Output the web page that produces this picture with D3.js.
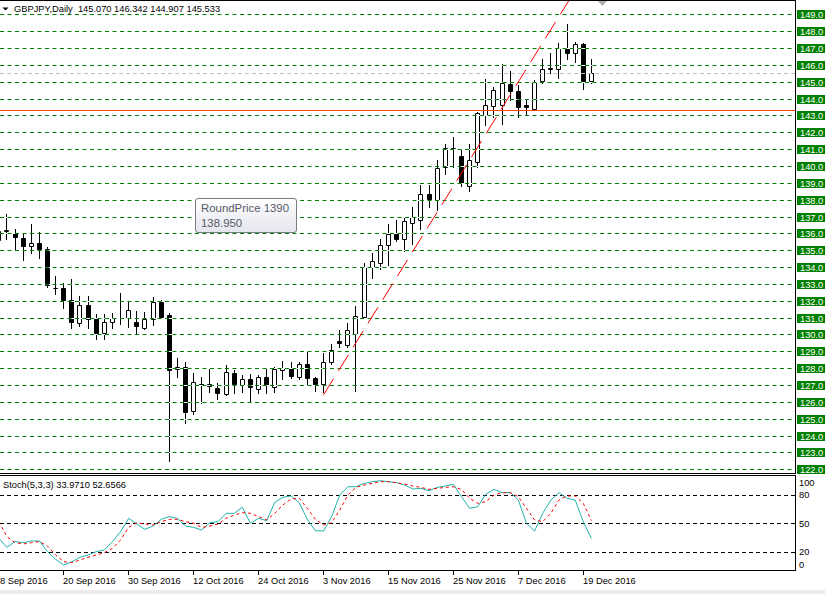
<!DOCTYPE html>
<html><head><meta charset="utf-8">
<script src="https://cdn.jsdelivr.net/npm/d3@7"></script>
<style>
html,body{margin:0;padding:0;background:#fff;overflow:hidden;}
svg{display:block;}
text{font-family:"Liberation Sans",Arial,sans-serif;}
</style></head><body>
<svg id="c" width="825" height="594"></svg>
<script>
// ---------------- DATA ----------------
const symbolTitle = "GBPJPY,Daily";
const dates = [
"2016-09-08","2016-09-09","2016-09-12","2016-09-13","2016-09-14","2016-09-15","2016-09-16",
"2016-09-19","2016-09-20","2016-09-21","2016-09-22","2016-09-23",
"2016-09-26","2016-09-27","2016-09-28","2016-09-29","2016-09-30",
"2016-10-03","2016-10-04","2016-10-05","2016-10-06","2016-10-07",
"2016-10-10","2016-10-11","2016-10-12","2016-10-13","2016-10-14",
"2016-10-17","2016-10-18","2016-10-19","2016-10-20","2016-10-21",
"2016-10-24","2016-10-25","2016-10-26","2016-10-27","2016-10-28",
"2016-10-31","2016-11-01","2016-11-02","2016-11-03","2016-11-04",
"2016-11-07","2016-11-08","2016-11-09","2016-11-10","2016-11-11",
"2016-11-14","2016-11-15","2016-11-16","2016-11-17","2016-11-18",
"2016-11-21","2016-11-22","2016-11-23","2016-11-24","2016-11-25",
"2016-11-28","2016-11-29","2016-11-30","2016-12-01","2016-12-02",
"2016-12-05","2016-12-06","2016-12-07","2016-12-08","2016-12-09",
"2016-12-12","2016-12-13","2016-12-14","2016-12-15","2016-12-16",
"2016-12-19","2016-12-20"];
const opens = [
135.62,136.15,136.04,135.74,135.27,135.43,135.09,
132.78,132.73,132.02,130.66,131.74,
130.96,130.07,130.72,131.00,130.95,
130.74,130.41,130.90,131.90,131.17,
127.94,128.06,125.45,127.05,127.05,
126.81,126.48,127.70,127.03,127.35,
126.79,127.47,126.91,127.88,128.00,
127.45,128.26,127.43,127.09,128.36,
129.62,129.40,130.00,131.03,134.00,
134.24,135.33,135.99,135.69,136.62,
136.82,138.36,138.00,139.91,141.00,
140.58,138.80,140.24,143.02,143.55,
143.61,144.86,144.46,143.60,143.41,
145.05,145.78,145.73,146.94,146.68,
147.24,145.070];
const highs = [
136.30,137.12,136.23,136.04,136.57,136.11,135.20,
133.46,133.08,133.28,132.30,132.30,
131.21,131.19,131.29,132.45,131.94,
131.39,131.35,132.22,132.04,131.27,
128.59,128.38,127.70,127.47,127.96,
127.11,128.18,127.90,127.58,127.66,
127.62,127.98,128.06,128.44,128.34,
128.34,129.03,127.50,128.93,129.45,
130.28,130.71,131.70,134.24,134.86,
135.65,136.54,136.78,136.92,137.57,
138.86,138.86,140.34,141.33,141.73,
140.94,141.33,143.21,145.14,144.66,
146.05,145.65,144.80,143.95,145.10,
146.33,146.72,147.31,148.42,147.37,
147.31,146.342];
const lows = [
135.40,135.68,134.99,134.44,134.85,134.54,132.83,
132.43,131.59,130.41,130.52,130.41,
129.72,129.72,130.41,130.62,130.45,
130.05,130.31,130.56,130.96,122.50,
127.47,124.77,125.29,125.92,126.61,
126.20,126.42,126.55,126.59,126.06,
126.55,126.55,126.61,127.37,127.41,
127.35,127.07,126.67,126.57,128.24,
129.23,129.23,126.67,131.00,133.37,
133.91,134.10,135.55,134.95,135.39,
136.23,137.57,137.37,139.55,139.94,
138.80,138.52,139.94,142.42,142.92,
142.48,143.91,142.92,143.02,143.31,
144.90,145.49,145.20,146.33,146.18,
144.54,144.907];
const closes = [
136.17,136.20,135.78,135.25,135.44,135.07,132.91,
132.75,132.06,130.72,131.74,130.92,
130.11,130.72,131.00,130.98,131.43,
130.52,130.90,131.90,131.05,127.90,
128.06,125.39,127.19,127.03,126.93,
126.53,127.76,127.09,127.35,126.91,
127.50,127.03,127.94,128.00,127.56,
128.26,127.41,127.09,128.38,129.07,
129.52,130.26,131.07,134.00,134.36,
135.33,135.99,135.65,136.72,136.97,
138.36,138.04,139.85,141.04,141.06,
138.96,140.38,143.15,143.59,144.50,
144.94,144.46,143.51,143.50,144.98,
145.73,145.82,146.98,146.68,147.24,
145.05,145.533];
const stochK = [
34.1,24.6,30.6,29.5,31.3,31.3,20.1,
12.0,6.0,9.5,14.1,16.5,
20.1,21.8,30.6,41.1,55.1,
49.2,43.5,47.0,54.1,56.9,
55.1,47.0,45.6,42.8,50.5,
51.6,60.4,60.4,66.7,49.9,
55.1,52.7,72.0,77.3,78.7,
71.6,54.1,42.1,41.8,56.9,
79.7,88.4,88.4,91.9,93.7,
94.7,93.7,92.6,90.2,86.0,
86.7,84.2,87.7,89.1,90.9,
77.9,65.6,67.4,80.7,85.6,
82.1,82.5,74.4,49.9,41.8,
60.4,74.4,82.1,76.2,74.4,
51.6,33.971];
const stochD = [
51.6,35.8,29.5,28.1,29.5,30.6,26.0,
16.5,9.5,8.5,11.3,14.1,
16.5,19.0,23.5,32.3,45.6,
50.5,49.2,48.1,51.6,54.1,
54.1,51.6,49.9,45.6,47.0,
49.2,55.1,58.6,61.1,60.4,
56.9,53.4,60.4,69.2,75.5,
76.2,65.6,54.1,48.1,50.5,
63.9,79.7,87.7,90.2,91.9,
93.7,93.7,92.6,91.2,89.1,
87.7,85.6,86.7,87.7,88.4,
85.6,76.2,70.9,72.7,79.7,
82.1,82.1,77.9,65.6,53.4,
51.6,60.4,74.4,78.7,78.7,
70.9,52.6566];
const dateTicks = ["2016-09-08","2016-09-20","2016-09-30","2016-10-12","2016-10-24",
                   "2016-11-03","2016-11-15","2016-11-25","2016-12-07","2016-12-19"];
const roundLevels = [122,123,124,125,126,127,128,129,130,131,132,133,134,135,
                     136,137,138,139,140,141,142,143,144,145,146,147,148,149];
const hLinePrice = 143.30;
const bidPrice = 145.533;
const trendPoints = [["2016-11-03",126.42],["2016-12-15",149.64]];
const stochLevels = [20,50,80];
const stochAxisLabels = [100,80,50,20,0];
const stochTitle = "Stoch(5,3,3)";
const tooltipLines = ["RoundPrice 1390","138.950"];

// ---------------- LAYOUT ----------------
const W = 825, H = 594;
const axisX = 795;
const main = {top:1, bottom:473};
const sub = {top:476, bottom:571};
const FS = 9.3;
const GREEN = "#008000";

const svg = d3.select("#c");
svg.append("rect").attr("width",W).attr("height",H).attr("fill","#fff");

const x = d3.scalePoint().domain(dates).range([-1.2, -1.2 + 73*8.118]);
const y = d3.scaleLinear().domain([122,149]).range([469.3,14.3]);
const ys = d3.scaleLinear().domain([0,100]).range([570.7,475.7]);

const defs = svg.append("defs");
defs.append("clipPath").attr("id","cm").append("rect")
  .attr("x",0).attr("y",main.top).attr("width",axisX).attr("height",main.bottom-main.top);
defs.append("clipPath").attr("id","cs").append("rect")
  .attr("x",0).attr("y",sub.top).attr("width",axisX).attr("height",sub.bottom-sub.top);
const grad = defs.append("linearGradient").attr("id","tg").attr("x1",0).attr("y1",0).attr("x2",0).attr("y2",1);
grad.append("stop").attr("offset","0%").attr("stop-color","#ffffff");
grad.append("stop").attr("offset","100%").attr("stop-color","#e4e5ee");

const gm = svg.append("g").attr("clip-path","url(#cm)");
const pix = v => Math.round(v) + 0.5;

// candles
const bars = dates.map((d,i)=>({d, o:opens[i], h:highs[i], l:lows[i], c:closes[i]}));
const cg = gm.append("g");
bars.forEach(b=>{
  const c = Math.floor(x(b.d));
  cg.append("line").attr("x1",c+0.5).attr("x2",c+0.5)
    .attr("y1",Math.round(y(b.h))).attr("y2",Math.round(y(b.l))+1)
    .attr("stroke","#000").attr("stroke-width",1);
  const t = pix(y(Math.max(b.o,b.c))), bt = pix(y(Math.min(b.o,b.c)));
  const l = c-1.5, r = c+2.5;
  cg.append("path").attr("d",`M${l},${t}H${r}V${bt}H${l}Z`)
    .attr("fill", b.c >= b.o ? "#fff" : "#000")
    .attr("stroke","#000").attr("stroke-width",1);
});

// round-price grid lines (opaque dashes: white gaps over candles)
const gl = gm.append("g");
roundLevels.forEach(p=>{
  const yy = pix(y(p));
  gl.append("line").attr("x1",0).attr("x2",axisX).attr("y1",yy).attr("y2",yy)
    .attr("stroke","#fff").attr("stroke-width",1);
  gl.append("line").attr("x1",0).attr("x2",axisX).attr("y1",yy).attr("y2",yy)
    .attr("stroke",GREEN).attr("stroke-width",1).attr("stroke-dasharray","4,3.5");
});

// bid line
gm.append("line").attr("x1",0).attr("x2",axisX)
  .attr("y1",pix(y(bidPrice))).attr("y2",pix(y(bidPrice)))
  .attr("stroke","#c0c0c0").attr("stroke-dasharray","4,3");
// orange horizontal line
gm.append("line").attr("x1",0).attr("x2",axisX)
  .attr("y1",pix(y(hLinePrice))).attr("y2",pix(y(hLinePrice)))
  .attr("stroke","#ff4500").attr("stroke-width",1);
// trend line (ray)
{
  const x1 = x(trendPoints[0][0]), y1 = y(trendPoints[0][1]);
  const x2 = x(trendPoints[1][0]), y2 = y(trendPoints[1][1]);
  const k = 1.3;
  gm.append("line").attr("x1",x1).attr("y1",y1)
    .attr("x2",x1+(x2-x1)*k).attr("y2",y1+(y2-y1)*k)
    .attr("stroke","#ff0000").attr("stroke-width",1).attr("stroke-dasharray","19,9");
}
// chart-shift marker
{
  const sx = x(dates[dates.length-1]) + 11;
  svg.append("path").attr("d",`M${sx-4.5},1 L${sx+4.5},1 L${sx},6 Z`).attr("fill","#b0b0b0");
}

// header
svg.append("path").attr("d","M2.5,7.5 L8.5,7.5 L5.5,10.5 Z").attr("fill","#000");
const last = bars[bars.length-1];
svg.append("text").attr("x",14).attr("y",11.7).attr("font-size",FS).attr("fill","#000")
  .attr("xml:space","preserve")
  .text(`${symbolTitle}  ${d3.format(".3f")(last.o)} ${d3.format(".3f")(last.h)} ${d3.format(".3f")(last.l)} ${d3.format(".3f")(last.c)}`);

// frames
svg.append("line").attr("x1",0).attr("x2",axisX).attr("y1",0.5).attr("y2",0.5).attr("stroke","#000");
svg.append("line").attr("x1",0).attr("x2",axisX+1).attr("y1",473.5).attr("y2",473.5).attr("stroke","#000");
svg.append("line").attr("x1",0).attr("x2",axisX+1).attr("y1",475.5).attr("y2",475.5).attr("stroke","#000");
svg.append("line").attr("x1",0).attr("x2",axisX+1).attr("y1",570.5).attr("y2",570.5).attr("stroke","#000");
svg.append("line").attr("x1",axisX+0.5).attr("x2",axisX+0.5).attr("y1",0).attr("y2",474).attr("stroke","#000");
svg.append("line").attr("x1",axisX+0.5).attr("x2",axisX+0.5).attr("y1",475).attr("y2",571).attr("stroke","#000");

// right price labels
const fmtP = d3.format(".1f");
const pl = svg.append("g");
roundLevels.forEach(p=>{
  const yy = Math.round(y(p));
  pl.append("rect").attr("x",797).attr("y",yy-4).attr("width",30).attr("height",9).attr("fill",GREEN);
  pl.append("text").attr("x",800).attr("y",yy+4).attr("font-size",FS).attr("fill","#fff").text(fmtP(p));
});

// stochastic panel
const gs = svg.append("g").attr("clip-path","url(#cs)");
stochLevels.forEach(v=>{
  gs.append("line").attr("x1",0).attr("x2",axisX).attr("y1",pix(ys(v))).attr("y2",pix(ys(v)))
    .attr("stroke","#000").attr("stroke-dasharray","4,3");
});
const lineK = d3.line().x((d,i)=>x(dates[i])).y(d=>ys(d));
gs.append("path").attr("d",lineK(stochK)).attr("fill","none").attr("stroke","#20b2aa").attr("stroke-width",1);
gs.append("path").attr("d",lineK(stochD)).attr("fill","none").attr("stroke","#ff0000")
  .attr("stroke-width",1).attr("stroke-dasharray","3,3");
svg.append("text").attr("x",3).attr("y",488).attr("font-size",FS).attr("fill","#000")
  .text(`${stochTitle} ${d3.format(".4f")(stochK[stochK.length-1])} ${d3.format(".4f")(stochD[stochD.length-1])}`);
// stoch axis labels (MT4 pulls 100 and 0 inward)
stochAxisLabels.forEach(v=>{
  let yy = ys(v);
  if (v===100) yy += 7; if (v===0) yy -= 6;
  svg.append("text").attr("x",799).attr("y",yy+3.5).attr("font-size",FS).attr("fill","#000").text(v);
});

// date axis
const parse = d3.timeParse("%Y-%m-%d"), fmtD = d3.timeFormat("%-d %b %Y");
dateTicks.forEach(d=>{
  const c = Math.floor(x(d));
  svg.append("line").attr("x1",c+0.5).attr("x2",c+0.5).attr("y1",571).attr("y2",575).attr("stroke","#000");
  svg.append("text").attr("x",Math.max(c,0)).attr("y",584).attr("font-size",FS).attr("fill","#000").text(fmtD(parse(d)));
});
svg.append("rect").attr("x",0).attr("y",590).attr("width",W).attr("height",4).attr("fill","#ececec");

// tooltip
const tt = svg.append("g");
tt.append("rect").attr("x",195.5).attr("y",198.5).attr("width",101).attr("height",34).attr("rx",2.5)
  .attr("fill","url(#tg)").attr("stroke","#7a7a80");
tooltipLines.forEach((s,i)=>{
  tt.append("text").attr("x",201).attr("y",211.5+i*15).attr("font-size",11.4).attr("fill","#575a66").text(s);
});
</script>
</body></html>
